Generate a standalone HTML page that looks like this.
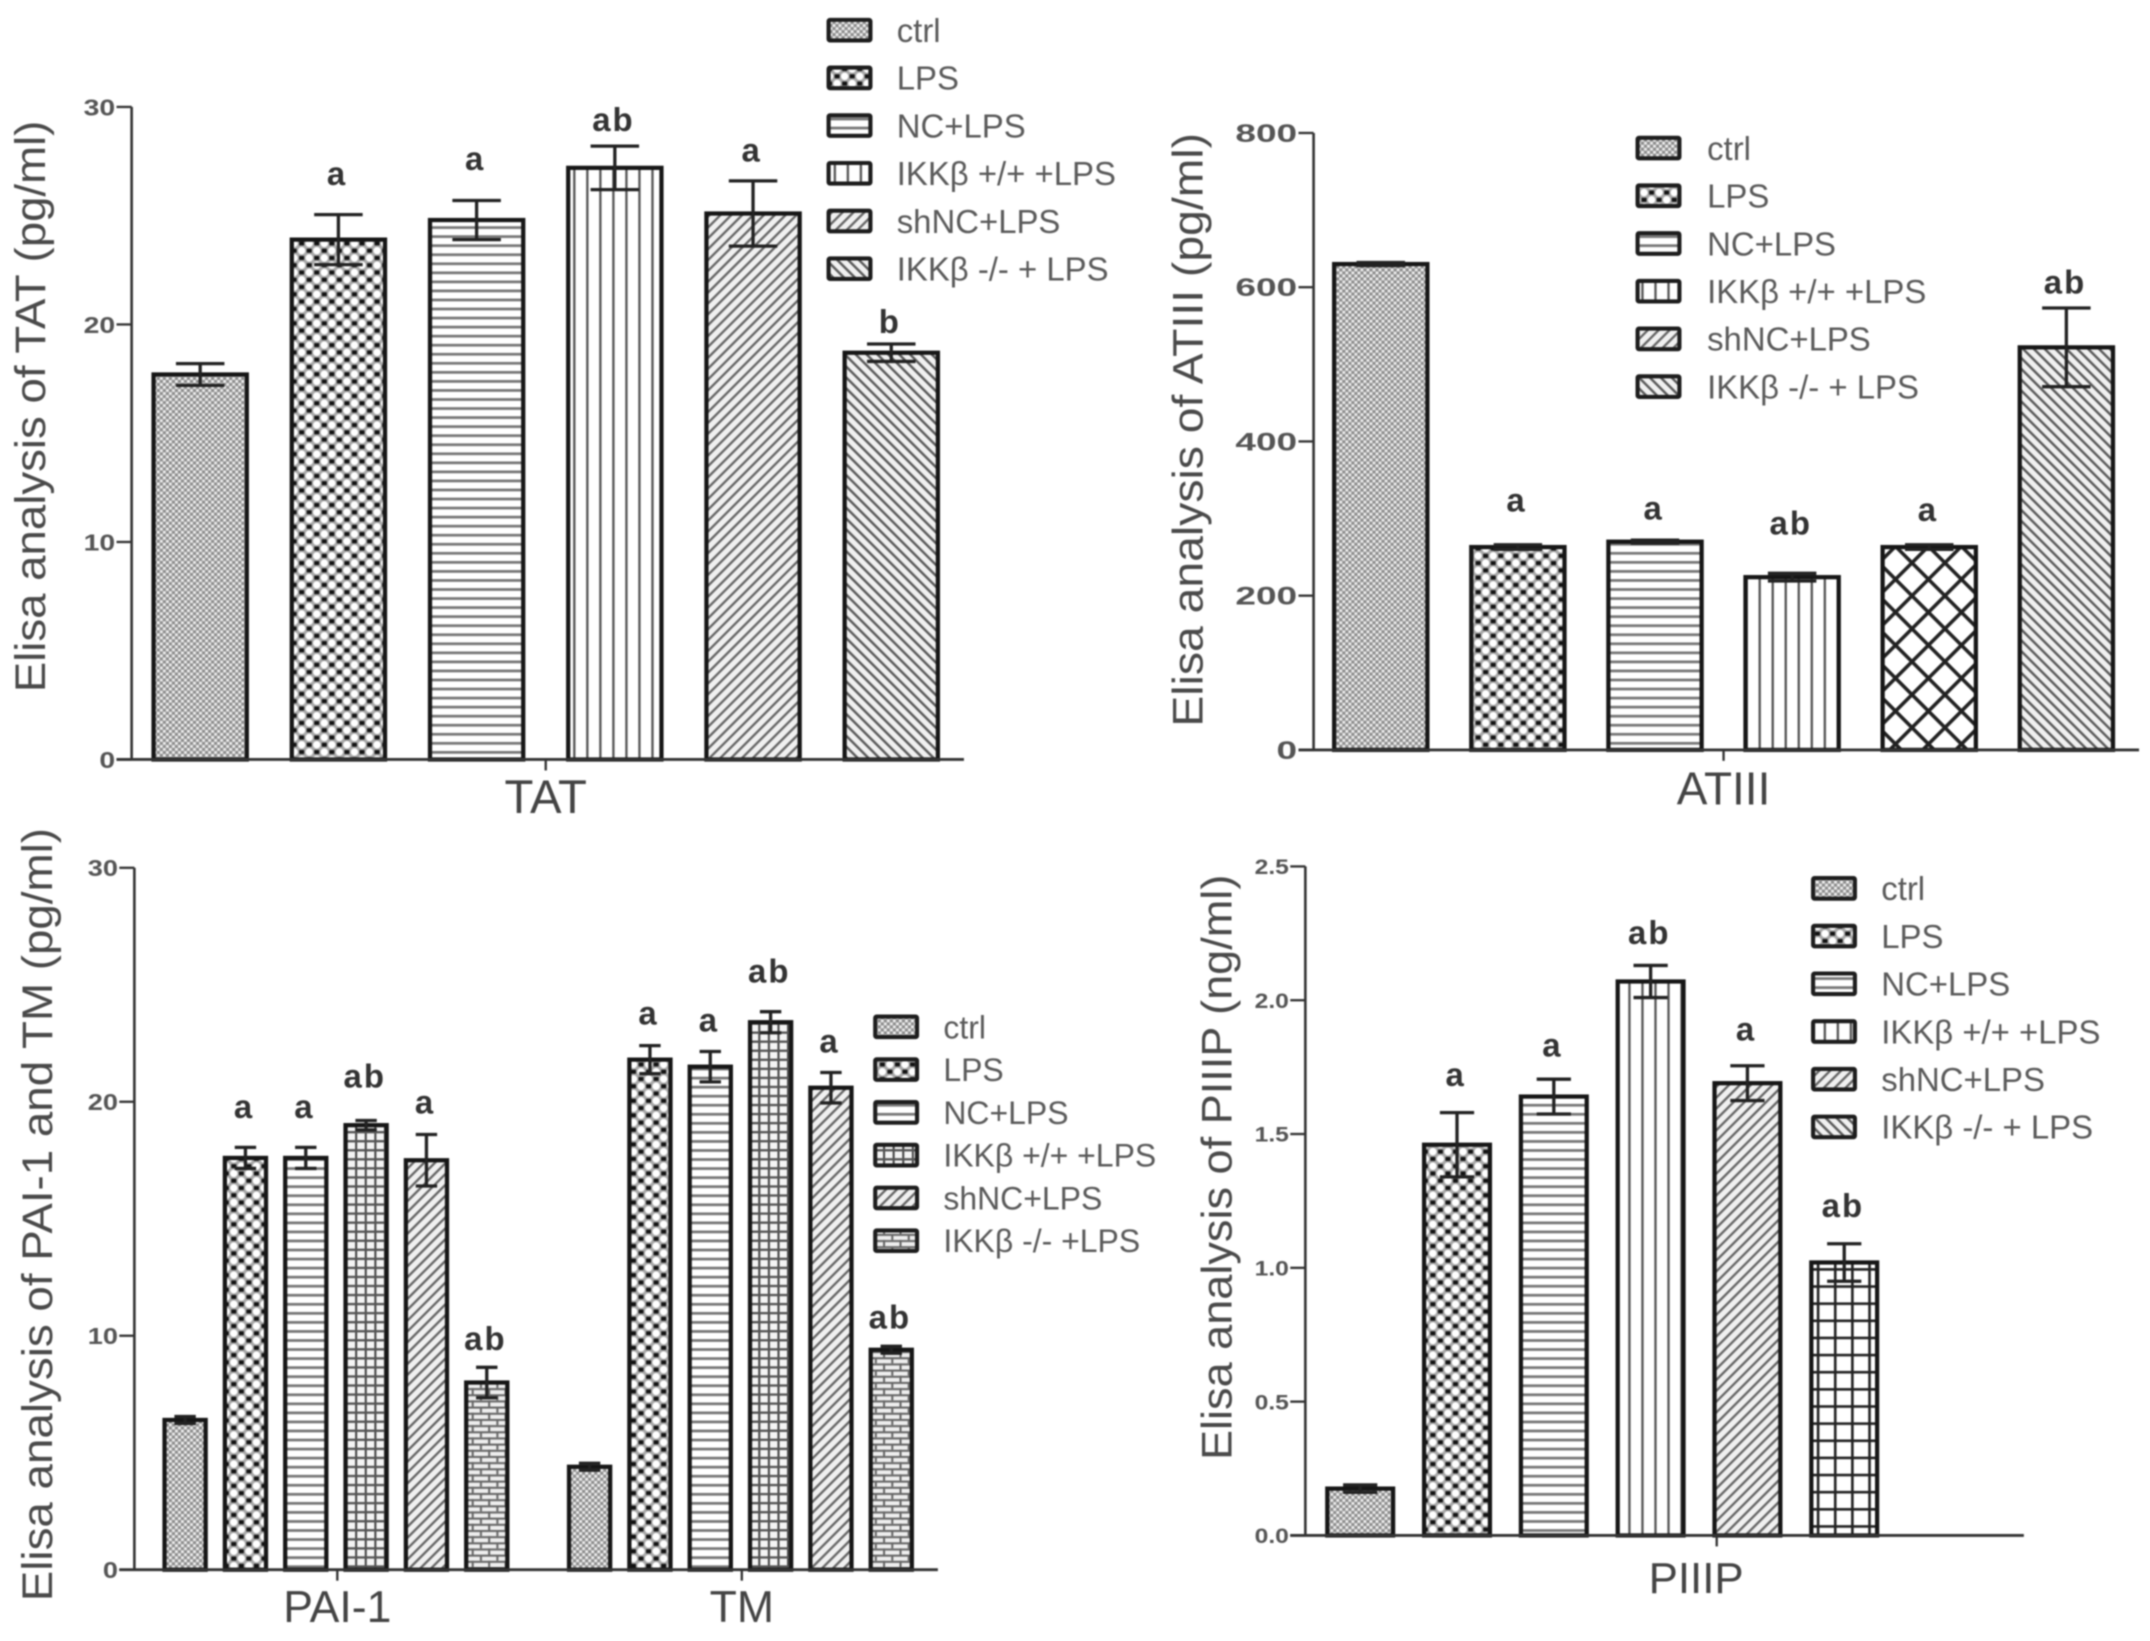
<!DOCTYPE html>
<html lang="en">
<head>
<meta charset="utf-8">
<title>Elisa analysis of TAT, ATIII, PAI-1, TM and PIIIP</title>
<style>
html,body{margin:0;padding:0;background:#fff;}
#figure{display:block;width:2150px;height:1641px;filter:blur(0.8px);font-family:"Liberation Sans",sans-serif;}
</style>
</head>
<body>
<svg id="figure" xmlns="http://www.w3.org/2000/svg" viewBox="0 0 1568 1197" preserveAspectRatio="none">
<defs>
<pattern id="p-ctrl" width="4.4" height="4.4" patternUnits="userSpaceOnUse"><rect width="4.4" height="4.4" fill="#8c8c8c"/><rect x="0" y="0" width="2.1" height="2.1" fill="#eee"/><rect x="2.2" y="2.2" width="2.1" height="2.1" fill="#eee"/></pattern>
<pattern id="p-lps" width="11" height="10.6" patternUnits="userSpaceOnUse"><rect width="11" height="10.6" fill="#a8a8a8"/><circle cx="0" cy="2.65" r="2.7" fill="#fff"/><circle cx="11" cy="2.65" r="2.7" fill="#fff"/><circle cx="5.5" cy="7.95" r="2.7" fill="#fff"/><rect x="3.7" y="1.2" width="3.6" height="2.9" fill="#111"/><rect x="-1.8" y="6.5" width="3.6" height="2.9" fill="#111"/><rect x="9.2" y="6.5" width="3.6" height="2.9" fill="#111"/></pattern>
<pattern id="p-horizontal" width="6" height="6.6" patternUnits="userSpaceOnUse"><rect width="6" height="6.6" fill="#fff"/><rect y="0" width="6" height="2" fill="#777"/></pattern>
<pattern id="p-vertical" width="9.5" height="6" patternUnits="userSpaceOnUse"><rect width="9.5" height="6" fill="#fff"/><rect x="0" width="1.7" height="6" fill="#555"/></pattern>
<pattern id="p-diag-up" width="5.6" height="5.6" patternUnits="userSpaceOnUse" patternTransform="rotate(45)"><rect width="5.6" height="5.6" fill="#f0f0f0"/><rect x="0" width="1.7" height="5.6" fill="#666"/></pattern>
<pattern id="p-diag-down" width="5.6" height="5.6" patternUnits="userSpaceOnUse" patternTransform="rotate(-45)"><rect width="5.6" height="5.6" fill="#f0f0f0"/><rect x="0" width="1.8" height="5.6" fill="#5c5c5c"/></pattern>
<pattern id="p-cross" width="17" height="17" patternUnits="userSpaceOnUse" patternTransform="rotate(45)"><rect width="17" height="17" fill="#fff"/><rect width="2.6" height="17" fill="#222"/><rect width="17" height="2.6" fill="#222"/></pattern>
<pattern id="p-grid-fine" width="7" height="6.6" patternUnits="userSpaceOnUse"><rect width="7" height="6.6" fill="#f4f4f4"/><rect width="1.5" height="6.6" fill="#444"/><rect width="7" height="1.7" fill="#555"/></pattern>
<pattern id="p-grid" width="12.5" height="12.5" patternUnits="userSpaceOnUse"><rect width="12.5" height="12.5" fill="#fff"/><rect width="1.9" height="12.5" fill="#222"/><rect width="12.5" height="1.9" fill="#222"/></pattern>
<pattern id="p-brick" width="12" height="9" patternUnits="userSpaceOnUse"><rect width="12" height="9" fill="#eee"/><rect y="0" width="12" height="1.5" fill="#666"/><rect y="4.5" width="12" height="1.5" fill="#666"/><rect x="2" y="0" width="1.5" height="4.5" fill="#666"/><rect x="8" y="4.5" width="1.5" height="4.5" fill="#666"/></pattern>
</defs>
</svg>
<script>
// ---------- chart data ----------
const legendLabels = ['ctrl', 'LPS', 'NC+LPS', 'IKK\u03B2 +/+ +LPS', 'shNC+LPS', 'IKK\u03B2 -/- + LPS'];
const pai1TmLegendLabels = ['ctrl', 'LPS', 'NC+LPS', 'IKK\u03B2 +/+ +LPS', 'shNC+LPS', 'IKK\u03B2 -/- +LPS'];

const tatGroups = ['TAT'];
const tatValues = [[17.7, 23.9, 24.8, 27.2, 25.1, 18.7]];
const tatErrors = [[0.5, 1.15, 0.9, 1.0, 1.5, 0.4]];
const tatLetters = [['', 'a', 'a', 'ab', 'a', 'b']];
const tatLetterLevels = [[0, 26.4, 27.1, 28.9, 27.5, 19.6]];
const tatTicks = [0, 10, 20, 30];
const tatTickLabels = ['0', '10', '20', '30'];

const atiiiGroups = ['ATIII'];
const atiiiValues = [[630, 263, 270, 224, 263, 522]];
const atiiiErrors = [[2, 3, 2, 5, 3, 51]];
const atiiiLetters = [['', 'a', 'a', 'ab', 'a', 'ab']];
const atiiiLetterLevels = [[0, 309, 299, 279, 297, 592]];
const atiiiTicks = [0, 200, 400, 600, 800];
const atiiiTickLabels = ['0', '200', '400', '600', '800'];

const paiTmGroups = ['PAI-1', 'TM'];
const paiTmValues = [[6.4, 17.6, 17.6, 19.0, 17.5, 8.0], [4.4, 21.8, 21.5, 23.4, 20.6, 9.4]];
const paiTmErrors = [[0.15, 0.45, 0.45, 0.2, 1.1, 0.65], [0.15, 0.6, 0.65, 0.45, 0.65, 0.15]];
const paiTmLetters = [['', 'a', 'a', 'ab', 'a', 'ab'], ['', 'a', 'a', 'ab', 'a', 'ab']];
const paiTmLetterLevels = [[0, 19.3, 19.3, 20.6, 19.5, 9.4], [0, 23.3, 23.0, 25.1, 22.1, 10.3]];
const paiTmTicks = [0, 10, 20, 30];
const paiTmTickLabels = ['0', '10', '20', '30'];

const piiipGroups = ['PIIIP'];
const piiipValues = [[0.175, 1.46, 1.64, 2.07, 1.69, 1.02]];
const piiipErrors = [[0.014, 0.12, 0.065, 0.06, 0.065, 0.07]];
const piiipLetters = [['', 'a', 'a', 'ab', 'a', 'ab']];
const piiipLetterLevels = [[0, 1.68, 1.79, 2.21, 1.85, 1.19]];
const piiipTicks = [0, 0.5, 1, 1.5, 2, 2.5];
const piiipTickLabels = ['0.0', '0.5', '1.0', '1.5', '2.0', '2.5'];

// ---------- panel layout (in 1568-wide view units) ----------
const panels = [
  { key: 'tat', title: 'Elisa analysis of TAT (pg/ml)', groups: tatGroups, values: tatValues, errors: tatErrors,
    letters: tatLetters, levels: tatLetterLevels, ticks: tatTicks, tickLabels: tatTickLabels, legend: legendLabels,
    fills: ['p-ctrl', 'p-lps', 'p-horizontal', 'p-vertical', 'p-diag-up', 'p-diag-down'],
    legendFills: ['p-ctrl', 'p-lps', 'p-horizontal', 'p-vertical', 'p-diag-up', 'p-diag-down'],
    axisX: 96, axisRight: 703, top: 78, bottom: 554, maxV: 30,
    groupStarts: [112], step: 100.8, barW: 68, groupTicks: [398], groupLabelXs: [398], groupLabelY: 593, groupFont: 34.5,
    titleX: 33, titleTop: 88, titleBottom: 505, tickFont: 17, digitW: 11.5,
    legendX: 603, legendY: 22, legendStep: 34.8, legendFont: 24, legendTextX: 654 },
  { key: 'atiii', title: 'Elisa analysis of ATIII (pg/ml)', groups: atiiiGroups, values: atiiiValues, errors: atiiiErrors,
    letters: atiiiLetters, levels: atiiiLetterLevels, ticks: atiiiTicks, tickLabels: atiiiTickLabels, legend: legendLabels,
    fills: ['p-ctrl', 'p-lps', 'p-horizontal', 'p-vertical', 'p-cross', 'p-diag-down'],
    legendFills: ['p-ctrl', 'p-lps', 'p-horizontal', 'p-vertical', 'p-diag-up', 'p-diag-down'],
    axisX: 958, axisRight: 1560, top: 97, bottom: 547, maxV: 800,
    groupStarts: [973], step: 100, barW: 68, groupTicks: [1257], groupLabelXs: [1257], groupLabelY: 587, groupFont: 33.5,
    titleX: 877, titleTop: 97, titleBottom: 530, tickFont: 18, digitW: 15,
    legendX: 1193, legendY: 108, legendStep: 34.8, legendFont: 24, legendTextX: 1245 },
  { key: 'pai-tm', title: 'Elisa analysis of PAI-1 and TM (pg/ml)', groups: paiTmGroups, values: paiTmValues, errors: paiTmErrors,
    letters: paiTmLetters, levels: paiTmLetterLevels, ticks: paiTmTicks, tickLabels: paiTmTickLabels, legend: pai1TmLegendLabels,
    fills: ['p-ctrl', 'p-lps', 'p-horizontal', 'p-grid-fine', 'p-diag-up', 'p-brick'],
    legendFills: ['p-ctrl', 'p-lps', 'p-horizontal', 'p-grid-fine', 'p-diag-up', 'p-brick'],
    axisX: 98, axisRight: 684, top: 633, bottom: 1145, maxV: 30,
    groupStarts: [120, 415], step: 44, barW: 30, groupTicks: [246, 541], groupLabelXs: [246, 541], groupLabelY: 1183, groupFont: 32.5,
    titleX: 38, titleTop: 604, titleBottom: 1168, tickFont: 17, digitW: 11,
    legendX: 637, legendY: 749, legendStep: 31.2, legendFont: 23.3, legendTextX: 688 },
  { key: 'piiip', title: 'Elisa analysis of PIIIP (ng/ml)', groups: piiipGroups, values: piiipValues, errors: piiipErrors,
    letters: piiipLetters, levels: piiipLetterLevels, ticks: piiipTicks, tickLabels: piiipTickLabels, legend: legendLabels,
    fills: ['p-ctrl', 'p-lps', 'p-horizontal', 'p-vertical', 'p-diag-up', 'p-grid'],
    legendFills: ['p-ctrl', 'p-lps', 'p-horizontal', 'p-vertical', 'p-diag-up', 'p-diag-down'],
    axisX: 952, axisRight: 1476, top: 632, bottom: 1120, maxV: 2.5,
    groupStarts: [968], step: 70.6, barW: 48, groupTicks: [1252], groupLabelXs: [1237], groupLabelY: 1162, groupFont: 32,
    titleX: 898, titleTop: 638, titleBottom: 1065, tickFont: 15.5, digitW: 10,
    legendX: 1321, legendY: 648, legendStep: 34.8, legendFont: 24, legendTextX: 1372 }
];

const svg = document.getElementById('figure');
const NS = 'http://www.w3.org/2000/svg';

function make(tag, attrs, parent) {
  const node = document.createElementNS(NS, tag);
  for (const k in attrs) node.setAttribute(k, attrs[k]);
  parent.appendChild(node);
  return node;
}
function slug(s) {
  return s.toLowerCase().replace(/\u03B2/g, 'b').replace(/[^a-z0-9]+/g, '-').replace(/^-|-$/g, '');
}
function labelWidth(label, digitW) {
  let w = 0;
  for (const c of label) w += c === '.' ? digitW * 0.5 : digitW;
  return w;
}

panels.forEach(function (p) {
  const yScale = function (v) { return p.bottom - (v / p.maxV) * (p.bottom - p.top); };
  const xScale = function (g, i) { return p.groupStarts[g] + i * p.step; };

  const panel = make('g', {}, svg);
  
  

  // y axis title
  const titleCy = (p.titleTop + p.titleBottom) / 2;
  const yTitle = make('text', {
    x: p.titleX, y: titleCy, 'text-anchor': 'middle', fill: '#4a4a4a', 'font-size': 31,
    transform: 'rotate(-90 ' + p.titleX + ' ' + titleCy + ')',
    textLength: p.titleBottom - p.titleTop, lengthAdjust: 'spacingAndGlyphs'
  }, panel);
  yTitle.textContent = p.title;
  
  

  // bars, error bars and letters
  p.groups.forEach(function (groupName, g) {
    p.values[g].forEach(function (v, i) {
      const left = xScale(g, i);
      const cx = left + p.barW / 2;
      const series = slug(p.legend[i]);

      const bar = make('rect', {
        x: left, y: yScale(v), width: p.barW, height: p.bottom - yScale(v),
        fill: 'url(#' + p.fills[i] + ')', stroke: '#161616', 'stroke-width': 3.1
      }, panel);
      
      

      const e = p.errors[g][i];
      const capHalf = p.barW * 0.26;
      const errTop = yScale(v + e);
      const errBottom = yScale(v - e);
      const errPath = make('path', {
        d: 'M' + (cx - capHalf) + ' ' + errTop + 'H' + (cx + capHalf) +
           'M' + cx + ' ' + errTop + 'V' + errBottom +
           'M' + (cx - capHalf) + ' ' + errBottom + 'H' + (cx + capHalf),
        fill: 'none', stroke: '#222', 'stroke-width': 2.4
      }, panel);
      
      

      const letter = p.letters[g][i];
      if (letter) {
        const sig = make('text', {
          x: cx - 1, y: yScale(p.levels[g][i]), 'text-anchor': 'middle', fill: '#333',
          'font-size': 24, 'font-weight': 'bold', 'letter-spacing': 1.5
        }, panel);
        sig.textContent = letter;
        
        
      }
    });
  });

  // axes
  const yAxis = make('line', { x1: p.axisX, x2: p.axisX, y1: p.top, y2: p.bottom, stroke: '#333', 'stroke-width': 1.9 }, panel);
  
  

  const xAxis = make('line', { x1: p.axisX - 11, x2: p.axisRight, y1: p.bottom, y2: p.bottom, stroke: '#333', 'stroke-width': 2.1 }, panel);
  
  

  p.ticks.forEach(function (t, k) {
    const ty = yScale(t);
    const tick = make('line', { x1: p.axisX - 11, x2: p.axisX, y1: ty, y2: ty, stroke: '#333', 'stroke-width': 1.7 }, panel);
    
    

    const tl = make('text', {
      x: p.axisX - 12, y: ty + p.tickFont * 0.36, 'text-anchor': 'end', fill: '#555',
      'font-size': p.tickFont, 'font-weight': 'bold',
      textLength: labelWidth(p.tickLabels[k], p.digitW), lengthAdjust: 'spacingAndGlyphs'
    }, panel);
    tl.textContent = p.tickLabels[k];
    
    
  });

  p.groups.forEach(function (groupName, g) {
    const gx = p.groupTicks[g];
    const tick = make('line', { x1: gx, x2: gx, y1: p.bottom, y2: p.bottom + 8, stroke: '#333', 'stroke-width': 1.7 }, panel);
    
    

    const gl = make('text', {
      x: p.groupLabelXs[g], y: p.groupLabelY, 'text-anchor': 'middle', fill: '#444', 'font-size': p.groupFont
    }, panel);
    gl.textContent = groupName;
    
    
  });

  // legend
  p.legend.forEach(function (label, i) {
    const ly = p.legendY + i * p.legendStep;
    const entry = make('g', {}, panel);
    
    

    const swatch = make('rect', {
      x: p.legendX + 1.3, y: ly - 7.5, width: 30.5, height: 15, rx: 1,
      fill: 'url(#' + p.legendFills[i] + ')', stroke: '#1d1d1d', 'stroke-width': 3
    }, entry);
    
    

    const txt = make('text', {
      x: p.legendTextX, y: ly + p.legendFont * 0.36, fill: '#5a5a5a', 'font-size': p.legendFont
    }, entry);
    txt.textContent = label;
    
    
  });
});
</script>
</body>
</html>
